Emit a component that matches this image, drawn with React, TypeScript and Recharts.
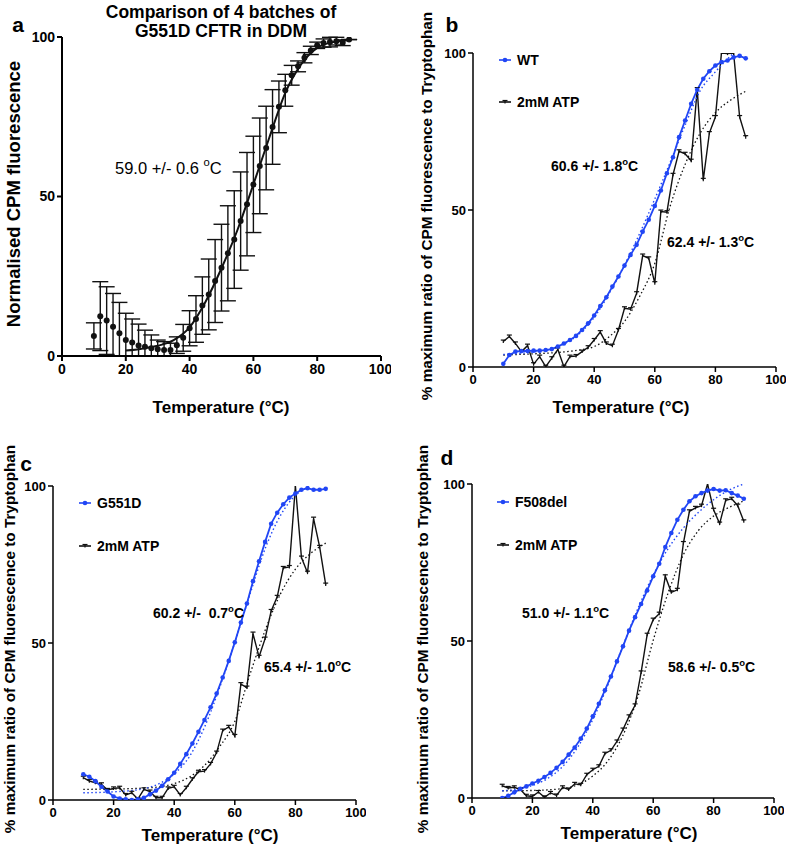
import { ComposedChart, XAxis, YAxis, Line, Scatter, ErrorBar } from 'recharts'

const FONT = "'Liberation Sans', Arial, Helvetica, sans-serif"
const BLUE = '#2146f5'
const INK = '#111'

const temps = [10, 12, 14, 16, 18, 20, 22, 24, 26, 28, 30, 32, 34, 36, 38, 40, 42, 44, 46, 48, 50,
  52, 54, 56, 58, 60, 62, 64, 66, 68, 70, 72, 74, 76, 78, 80, 82, 84, 86, 88, 90]
const xTicks = [0, 20, 40, 60, 80, 100]
const yTicks = [0, 50, 100]

// a: 4 batches of G551D, mean and SD
const batchMean = [6.3, 12.5, 11.1, 9.2, 7.1, 5.0, 4.2, 3.3, 2.9, 2.4, 2.1, 1.9, 1.9, 3.4, 5.7, 8.7, 11.6,
  15.8, 19.3, 23.5, 27.7, 32.2, 36.5, 42.3, 47.6, 53.8, 59.6, 65.2, 71.8, 78.1, 83.3, 88.0, 90.8, 93.5,
  95.8, 97.4, 98.1, 98.4, 98.7, 98.2, 99.2]
const batchSd = [4.1, 10.8, 10.6, 10.4, 9.7, 8.4, 7.4, 6.7, 5.2, 4.2, 2.9, 2.6, 2.1, 2.6, 4.2, 5.5, 7.3,
  9.0, 11.1, 13.0, 13.6, 14.9, 15.3, 15.4, 16.2, 15.1, 15.0, 13.1, 11.7, 8.1, 5.0, 3.1, 1.7, 1.6, 1.3,
  1.0, 1.3, 1.5, 1.2, 0.9, 0]
const batchFitX = [20, 25, 30, 35, 40, 45, 50, 55, 60, 65, 70, 75, 80, 85, 90]
const batchFitY = [1.7, 2.3, 3.2, 5.0, 9.0, 17.0, 27.5, 39.5, 53.8, 68.5, 82.5, 91.5, 96.6, 98.4, 99.0]

// b: WT
const wt = [1.0, 3.8, 4.9, 5.1, 5.1, 5.2, 5.2, 5.4, 5.7, 6.5, 7.5, 8.6, 9.9, 11.8, 13.9, 16.4, 19.4, 22.2,
  25.6, 28.8, 32.3, 35.7, 38.9, 43.1, 46.9, 51.3, 56.2, 61.7, 66.8, 73.2, 78.5, 83.8, 88.3, 91.8, 94.2,
  96.0, 97.1, 97.6, 98.6, 99.1, 98.3]
const wtAtp = [8.1, 9.7, 7.5, 4.9, 6.8, 0.9, 3.3, 0.1, 2.8, 5.6, 0.1, 3.3, 3.5, 4.9, 6.3, 8.6, 11.1, 7.5,
  6.8, 11.8, 18.7, 18.4, 23.5, 35.5, 34.6, 26.7, 49.5, 49.3, 61.2, 68.7, 67.9, 65.7, 88.5, 59.6, 74.5,
  79.6, 100, 99.8, 100, 79.6, 73.2]
const wtFitX = [10, 15, 20, 25, 30, 35, 40, 45, 50, 55, 60, 65, 70, 75, 80, 86]
const wtFitY = [4.0, 4.3, 4.8, 5.6, 7.3, 10.5, 15.8, 23.5, 32.5, 42.5, 53.5, 65, 77, 88, 94, 100]
const wtAtpFitX = [10, 20, 30, 35, 40, 45, 50, 55, 60, 65, 70, 75, 80, 85, 90]
const wtAtpFitY = [3.8, 4.2, 4.8, 5.4, 6.5, 9.7, 14.5, 22.5, 33, 51, 64.5, 74.5, 81, 85, 87.8]

// c: G551D
const g551d = [8.2, 7.4, 6.0, 4.2, 2.7, 1.1, 0.5, 0.2, 0, 0.2, 0.7, 1.8, 3.0, 4.5, 6.6, 8.7, 11.5, 14.6,
  18.0, 21.7, 25.5, 29.5, 33.9, 39.0, 44.3, 50.2, 56.5, 62.6, 69.7, 76.0, 82.2, 88.0, 91.5, 94.2, 96.3,
  97.6, 98.8, 99.3, 98.8, 98.8, 99.1]
const g551dAtp = [7.1, 6.0, 5.5, 5.0, 3.2, 3.7, 3.9, 1.6, 2.3, 0.3, 3.4, 2.7, 0.7, 0.7, 3.7, 4.2, 1.6, 3.9,
  6.6, 9.0, 9.2, 11.5, 15.1, 22.1, 23.3, 20.4, 36.9, 35.8, 53.0, 45.6, 51.4, 60.2, 64.7, 73.9, 74.2,
  100, 77.2, 72.4, 89.6, 80.6, 68.6]
const g551dFitX = [10, 20, 30, 35, 40, 45, 50, 55, 60, 65, 70, 75, 80, 85]
const g551dFitY = [2.3, 2.6, 3.6, 5.2, 8.3, 13.8, 23.2, 35.8, 50.2, 65.5, 80, 90.5, 97, 100]
const g551dAtpFitX = [10, 20, 30, 35, 40, 45, 50, 55, 60, 65, 70, 75, 80, 85, 90]
const g551dAtpFitY = [3.4, 3.5, 3.8, 4.2, 5.2, 7.3, 11, 17, 25, 40, 54, 65.5, 73.5, 78.5, 81.8]

// d: F508del
const f508 = [0, 0.7, 1.8, 2.9, 3.7, 4.6, 5.5, 6.7, 8.0, 9.6, 11.5, 13.8, 16.1, 18.9, 22.1, 26.0, 30.0,
  34.3, 38.7, 43.5, 48.3, 53.3, 57.6, 61.8, 66.1, 70.6, 74.6, 79.9, 84.4, 88.6, 91.8, 94.5, 96.1, 97.1,
  97.9, 98.4, 97.9, 98.0, 97.1, 96.3, 95.3]
const f508Atp = [3.9, 3.2, 3.4, 2.7, 0.7, 0.5, 1.9, 0.2, 1.6, 0.8, 3.4, 2.7, 4.5, 4.2, 7.4, 9.0, 10.1,
  14.1, 15.2, 18.0, 21.8, 26.0, 29.5, 40.0, 52.0, 56.8, 58.7, 70.6, 65.5, 66.3, 81.2, 91.3, 92.4, 93.1,
  100, 91.8, 87.4, 94.8, 95.3, 93.1, 88.1]
const f508FitX = [10, 15, 20, 25, 30, 35, 40, 45, 50, 55, 60, 65, 70, 75, 80, 85, 90]
const f508FitY = [2.3, 2.8, 4.0, 6.2, 10, 16.2, 25, 36, 48.5, 60.5, 71, 79.5, 86, 91, 95, 98, 100]
const f508AtpFitX = [10, 20, 30, 35, 40, 45, 50, 55, 60, 65, 70, 75, 80, 85, 90]
const f508AtpFitY = [2.3, 2.4, 3.0, 4.2, 7.0, 11.8, 20, 32.5, 50.2, 65.5, 77.5, 85.2, 89.8, 92.5, 94.6]

const rows = (ys: number[]) => temps.map((x, i) => ({ x, y: ys[i] }))
const fit = (xs: number[], ys: number[]) => xs.map((x, i) => ({ x, y: ys[i] }))
const batchRows = temps.map((x, i) => ({
  x,
  y: batchMean[i],
  err: [Math.min(batchSd[i], batchMean[i]), batchSd[i]]
}))

const CapDot = (props: any) => {
  const { cx, cy, index } = props
  if (cx == null || cy == null) return <g key={index} />
  return (
    <g key={index}>
      <line x1={cx - 2.5} x2={cx + 2.5} y1={cy - 1.5} y2={cy - 1.5} stroke={INK} strokeWidth={1.2} />
      <line x1={cx} x2={cx} y1={cy - 1.5} y2={cy + 1.5} stroke={INK} strokeWidth={1.2} />
    </g>
  )
}

const MeanDot = (props: any) => <circle cx={props.cx} cy={props.cy} r={3} fill={INK} />

type PanelProps = { l: number, t: number, r: number, b: number, tickFont: number, axisWidth: number, children: any }

function Panel ({ l, t, r, b, tickFont, axisWidth, children }: PanelProps) {
  const tick = { fill: '#000', fontSize: tickFont, fontWeight: 700, fontFamily: FONT }
  return (
    <div style={{ position: 'absolute', left: l - 50, top: t - 10 }}>
      <ComposedChart width={r - l + 60} height={b - t + 50} margin={{ top: 10, right: 10, bottom: 10, left: 10 }}>
        <XAxis type="number" dataKey="x" domain={[0, 100]} ticks={xTicks} height={30} allowDataOverflow
          stroke="#000" strokeWidth={axisWidth} tick={tick} tickSize={5} tickMargin={3} />
        <YAxis type="number" dataKey="y" domain={[0, 100]} ticks={yTicks} width={40} allowDataOverflow
          stroke="#000" strokeWidth={axisWidth} tick={tick} tickSize={5} tickMargin={2} />
        {children}
      </ComposedChart>
    </div>
  )
}

function curvePanel (main: number[], atp: number[], fx: number[], fy: number[], ax: number[], ay: number[]) {
  return [
    <Line key="atp" data={rows(atp)} dataKey="y" stroke={INK} strokeWidth={1.4} dot={<CapDot />} type="linear" isAnimationActive={false} />,
    <Line key="main" data={rows(main)} dataKey="y" stroke={BLUE} strokeWidth={1.8} dot={{ r: 2.3, fill: BLUE, stroke: BLUE, strokeWidth: 0 }} type="linear" isAnimationActive={false} />,
    <Line key="fitA" data={fit(ax, ay)} dataKey="y" stroke={INK} strokeWidth={1.3} strokeDasharray="1.5 2.5" dot={false} type="monotone" isAnimationActive={false} />,
    <Line key="fitM" data={fit(fx, fy)} dataKey="y" stroke={BLUE} strokeWidth={1.4} strokeDasharray="1.5 2.5" dot={false} type="monotone" isAnimationActive={false} />
  ]
}

const bold = { fontFamily: FONT, fontWeight: 700, fill: '#000' }

function Deg ({ size }: { size: number }) {
  return (
    <>
      <tspan dy={-size * 0.35} fontSize={size * 0.68}>o</tspan>
      <tspan dy={size * 0.35}>C</tspan>
    </>
  )
}

function Legend ({ x, y, label, blue }: { x: number, y: number, label: string, blue: boolean }) {
  return (
    <g>
      <line x1={x} x2={x + 12} y1={y} y2={y} stroke={blue ? BLUE : INK} strokeWidth={1.6} />
      {blue
        ? <circle cx={x + 6} cy={y} r={2.3} fill={BLUE} />
        : <CapDot cx={x + 6} cy={y} />}
      <text x={x + 18} y={y} dominantBaseline="central" fontSize={14} {...bold}>{label}</text>
    </g>
  )
}

function Note ({ x, y, value, weight = 700, size = 14 }: { x: number, y: number, value: string, weight?: number, size?: number }) {
  return (
    <text x={x} y={y} dominantBaseline="central" fontSize={size} fontFamily={FONT} fontWeight={weight} fill="#000" style={{ whiteSpace: 'pre' }}>
      {value}<Deg size={size} />
    </text>
  )
}

function YLabel ({ x, y, text, size }: { x: number, y: number, text: string, size: number }) {
  return (
    <text x={x} y={y} transform={`rotate(-90 ${x} ${y})`} textAnchor="middle" dominantBaseline="central" fontSize={size} {...bold}>{text}</text>
  )
}

function XLabel ({ x, y }: { x: number, y: number }) {
  return <text x={x} y={y} textAnchor="middle" dominantBaseline="central" fontSize={17} {...bold}>Temperature (°C)</text>
}

function Letter ({ x, y, c }: { x: number, y: number, c: string }) {
  return <text x={x} y={y} textAnchor="middle" dominantBaseline="central" fontSize={21} {...bold}>{c}</text>
}

const ratioLabel = '% maximum ratio of CPM fluorescence to Tryptophan'

export default function App () {
  return (
    <div style={{ position: 'absolute', left: 0, top: 0, width: 788, height: 847, background: '#fff', overflow: 'hidden' }}>
      <Panel l={62} t={37} r={381} b={356} tickFont={14} axisWidth={2}>
        <Scatter data={batchRows} fill={INK} shape={MeanDot} isAnimationActive={false}>
          <ErrorBar dataKey="err" direction="y" width={8} stroke={INK} strokeWidth={1.4} />
        </Scatter>
        <Line data={fit(batchFitX, batchFitY)} dataKey="y" stroke={INK} strokeWidth={2} dot={false} type="monotone" isAnimationActive={false} />
      </Panel>
      <Panel l={473} t={53} r={776} b={367} tickFont={13} axisWidth={1.5}>
        {curvePanel(wt, wtAtp, wtFitX, wtFitY, wtAtpFitX, wtAtpFitY)}
      </Panel>
      <Panel l={53} t={486} r={356} b={800} tickFont={13} axisWidth={1.5}>
        {curvePanel(g551d, g551dAtp, g551dFitX, g551dFitY, g551dAtpFitX, g551dAtpFitY)}
      </Panel>
      <Panel l={472} t={484} r={774} b={798} tickFont={13} axisWidth={1.5}>
        {curvePanel(f508, f508Atp, f508FitX, f508FitY, f508AtpFitX, f508AtpFitY)}
      </Panel>

      <svg width={788} height={847} style={{ position: 'absolute', left: 0, top: 0, pointerEvents: 'none' }}>
        {/* a */}
        <Letter x={18} y={24} c="a" />
        <text x={221} y={12} textAnchor="middle" dominantBaseline="central" fontSize={17.5} {...bold}>Comparison of 4 batches of</text>
        <text x={221} y={31} textAnchor="middle" dominantBaseline="central" fontSize={17.5} {...bold}>G551D CFTR in DDM</text>
        <YLabel x={13} y={194} text="Normalised CPM fluorescence" size={18.5} />
        <XLabel x={221} y={407} />
        <Note x={115} y={168} value="59.0 +/- 0.6 " weight={400} size={16.5} />

        {/* b */}
        <Letter x={452} y={24} c="b" />
        <YLabel x={426} y={206} text={ratioLabel} size={15.3} />
        <XLabel x={621} y={407} />
        <Legend x={499} y={60} label="WT" blue />
        <Legend x={499} y={102} label="2mM ATP" blue={false} />
        <Note x={551} y={166} value="60.6 +/- 1.8" />
        <Note x={667} y={242} value="62.4 +/- 1.3" />

        {/* c */}
        <Letter x={26} y={463} c="c" />
        <YLabel x={9} y={639} text={ratioLabel} size={15.3} />
        <XLabel x={210} y={835} />
        <Legend x={79} y={503} label="G551D" blue />
        <Legend x={79} y={546} label="2mM ATP" blue={false} />
        <Note x={153} y={613} value="60.2 +/-  0.7" />
        <Note x={264} y={667} value="65.4 +/- 1.0" />

        {/* d */}
        <Letter x={447} y={457} c="d" />
        <YLabel x={422} y={639} text={ratioLabel} size={15.3} />
        <XLabel x={629} y={833} />
        <Legend x={497} y={502} label="F508del" blue />
        <Legend x={497} y={545} label="2mM ATP" blue={false} />
        <Note x={522} y={613} value="51.0 +/- 1.1" />
        <Note x={668} y={667} value="58.6 +/- 0.5" />
      </svg>
    </div>
  )
}
